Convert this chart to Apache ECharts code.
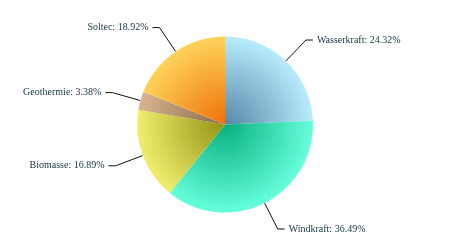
<!DOCTYPE html>
<html><head><meta charset="utf-8">
<script src="https://cdn.jsdelivr.net/npm/echarts@6/dist/echarts.min.js"></script>
<style>html,body{margin:0;padding:0;background:#fff}#c{width:450px;height:250px}</style>
</head><body><div id="c"></div>
<script>
const categories = ['Wasserkraft', 'Windkraft', 'Biomasse', 'Geothermie', 'Soltec'];
const values = [36, 54, 25, 5, 28];
const innerColors = ['#5687a8', '#08b07e', '#969212', '#8a6a48', '#ee700a'];
const outerColors = ['#b8ecfd', '#66ffdc', '#f0ee70', '#d8b48e', '#ffd35a'];

const cx = 225, cy = 124.5, R = 88;
const chart = echarts.init(document.getElementById('c'), null, {renderer: 'canvas'});
chart.setOption({
  animation: false,
  textStyle: {fontFamily: 'Liberation Serif'},
  series: [{
    type: 'pie',
    center: [cx, cy],
    radius: [0, R],
    startAngle: 90,
    avoidLabelOverlap: false,
    data: categories.map((n, i) => ({
      name: n, value: values[i],
      itemStyle: {
        color: {
          type: 'radial', x: cx, y: cy, r: R, global: true,
          colorStops: [{offset: 0, color: innerColors[i]}, {offset: 1, color: outerColors[i]}]
        }
      }
    })),
    label: {
      formatter: p => p.name + ': ' + p.percent.toFixed(2) + '%',
      fontFamily: 'Liberation Serif',
      fontSize: 10,
      overflow: 'none',
      distanceToLabelLine: 4,
      color: '#17363f'
    },
    labelLine: {length: 29, length2: 7, lineStyle: {color: '#111', width: 1}},
    emphasis: {disabled: true}
  }]
});
</script></body></html>
